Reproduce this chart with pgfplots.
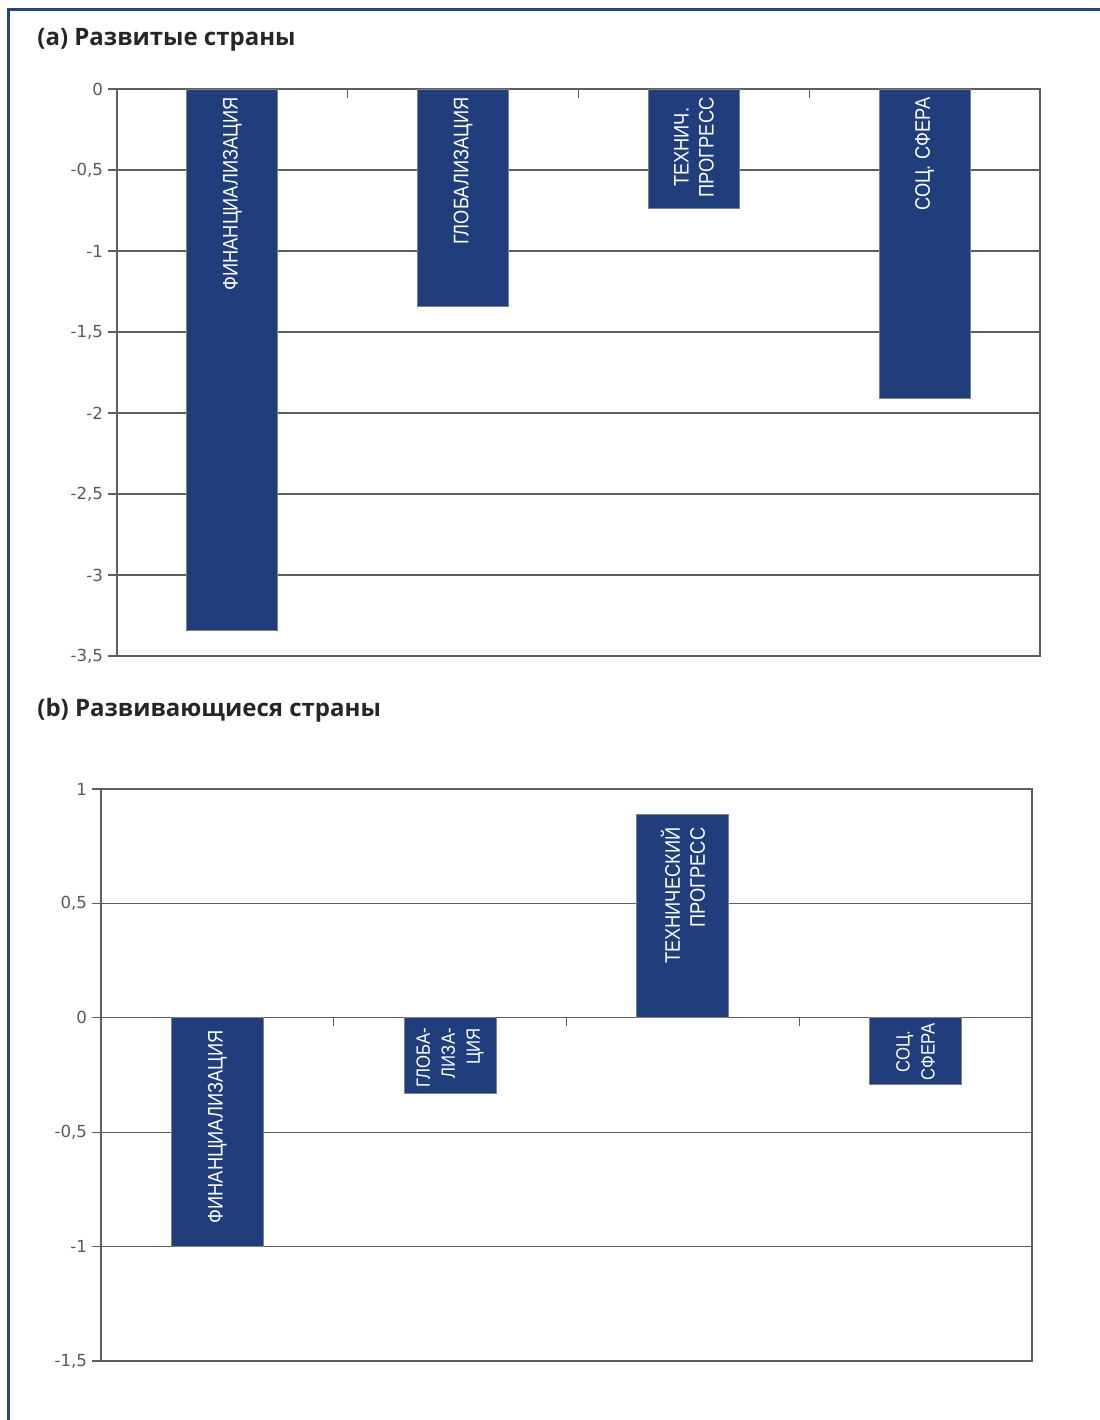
\documentclass[border=0pt]{standalone}
\usepackage{pgfplots}
\pgfplotsset{compat=1.18}
\usetikzlibrary{calc}
\usepackage{fontspec}
\setmainfont{Open Sans}
\newfontfamily\barfont[FakeStretch=0.87]{Liberation Sans}
\newfontfamily\tickfont{DejaVu Sans}
\definecolor{barblue}{RGB}{32,61,124}
\definecolor{frameblue}{RGB}{38,66,138}
\definecolor{gridc}{RGB}{95,95,95}
\tikzset{barlab/.style={rotate=90, anchor=east, text=white, font=\barfont\fontsize{10.5}{12.5}\selectfont, align=right},
  smalllab/.style={font=\barfont\fontsize{9.6}{12.5}\selectfont}}
\pgfplotsset{
  mybars/.style={
    scale only axis,
    anchor=north west,
    xmin=0.5, xmax=4.5,
    axis line style={gridc, line width=0.6pt},
    ymajorgrids, grid style={gridc, line width=0.6pt},
    xtick=\empty,
    ytick pos=left, tick align=outside,
    major tick length=4.5pt,
    tick style={gridc, line width=0.6pt},
    yticklabel style={font=\tickfont\fontsize{8.3}{10}\selectfont, text=black!65, xshift=1pt},
    /pgf/number format/use comma,
    /pgf/number format/assume math mode=true,
    ybar, bar width=45.5pt,
  },
}
\begin{document}
\begin{tikzpicture}
\useasboundingbox (0,0) rectangle (549.5pt,-710pt);
\draw[frameblue, line width=1.5pt] (4pt,-712pt) -- (4pt,-4.5pt) -- (551pt,-4.5pt);
\node[anchor=west, inner sep=0pt, font=\bfseries\fontsize{12}{14}\selectfont, text=black!85] at (18.5pt,-20pt) {(a) Развитые страны};
\node[anchor=west, inner sep=0pt, font=\bfseries\fontsize{12}{14}\selectfont, text=black!85] at (18.5pt,-355pt) {(b) Развивающиеся страны};

% Panel (a)
\begin{axis}[mybars,
  at={(58.5pt,-44.5pt)}, width=461.5pt, height=283.5pt,
  ymin=-3.5, ymax=0, ytick={-3.5,-3,-2.5,-2,-1.5,-1,-0.5,0},
]
\addplot[fill=barblue, draw=gray, line width=0.4pt] coordinates {(1,-3.34) (2,-1.34) (3,-0.74) (4,-1.91)};
\draw[gridc, line width=0.6pt] (axis cs:1.5,0) -- ++(0pt,-4.5pt);
\draw[gridc, line width=0.6pt] (axis cs:2.5,0) -- ++(0pt,-4.5pt);
\draw[gridc, line width=0.6pt] (axis cs:3.5,0) -- ++(0pt,-4.5pt);
\node[barlab] at ($(axis cs:1,0)+(0pt,-0.7pt)$) {ФИНАНЦИАЛИЗАЦИЯ};
\node[barlab] at ($(axis cs:2,0)+(0pt,-0.7pt)$) {ГЛОБАЛИЗАЦИЯ};
\node[barlab, align=center] at ($(axis cs:3,0)+(0pt,-0.7pt)$) {ТЕХНИЧ.\\ПРОГРЕСС};
\node[barlab] at ($(axis cs:4,0)+(0pt,-0.7pt)$) {СОЦ. СФЕРА};
\end{axis}

% Panel (b)
\begin{axis}[mybars,
  at={(50.5pt,-394.5pt)}, width=465.5pt, height=286pt,
  ymin=-1.5, ymax=1, ytick={-1.5,-1,-0.5,0,0.5,1},
  bar width=46pt,
]
\addplot[fill=barblue, draw=gray, line width=0.4pt] coordinates {(1,-1.0) (2,-0.33) (3,0.89) (4,-0.29)};
\draw[gridc, line width=0.6pt] (axis cs:1.5,0) -- ++(0pt,-4pt);
\draw[gridc, line width=0.6pt] (axis cs:2.5,0) -- ++(0pt,-4pt);
\draw[gridc, line width=0.6pt] (axis cs:3.5,0) -- ++(0pt,-4pt);
\draw[gridc, line width=0.6pt] (axis cs:4.5,0) -- ++(0pt,-4pt);
\node[barlab] at ($(axis cs:1,0)+(0pt,-2.7pt)$) {ФИНАНЦИАЛИЗАЦИЯ};
\node[barlab, smalllab] at ($(axis cs:2,0)+(0pt,-1.7pt)$) {ГЛОБА-\\ЛИЗА-\\ЦИЯ};
\node[barlab] at ($(axis cs:3,0.89)+(0pt,-3.2pt)$) {ТЕХНИЧЕСКИЙ\\ПРОГРЕСС};
\node[barlab, smalllab, align=center] at ($(axis cs:4,0)+(0pt,0.8pt)$) {СОЦ.\\СФЕРА};
\end{axis}
\end{tikzpicture}
\end{document}
